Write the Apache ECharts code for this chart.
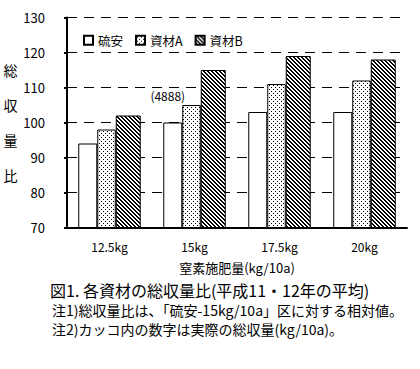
<!DOCTYPE html>
<html><head><meta charset="utf-8">
<script src="https://cdn.jsdelivr.net/npm/echarts@6/dist/echarts.min.js"></script>
<style>html,body{margin:0;padding:0;background:#fff}#c{width:420px;height:369px}</style>
</head><body><div id="c"></div>
<script>
const categories = ['12.5kg','15kg','17.5kg','20kg'];
const seriesNames = ['硫安','資材A','資材B'];
const ryuan = [94, 100, 103, 103];
const shizaiA = [98, 105, 111, 112];
const shizaiB = [102, 115, 119, 118];
const annotation = {index: 1, text: '(4888)'};
const yTicks = {min: 70, max: 130, interval: 10};
const F = '"Noto Sans CJK JP", sans-serif';

function pat(fn){const c=document.createElement('canvas');c.width=4;c.height=4;const x=c.getContext('2d');x.fillStyle='#fff';x.fillRect(0,0,4,4);x.fillStyle='#000';fn(x);return c;}
const dots = pat(x=>{x.fillRect(1,1,1,1);x.fillRect(3,3,1,1);});
const hatch = pat(x=>{for(let i=0;i<4;i++)for(let j=0;j<4;j++){const d=((i-j)%4+4)%4;if(d<2)x.fillRect(i,j,1,1);}});

const chart = echarts.init(document.getElementById('c'), null, {renderer:'svg'});
const border = {borderColor:'#000', borderWidth:1};
chart.setOption({
  animation:false,
  textStyle:{fontFamily:F},
  grid:{left:67, right:13, top:17.5, bottom:141.5},
  legend:{left:78, top:29, itemWidth:9, itemHeight:9, itemGap:12, icon:'rect',
    textStyle:{fontFamily:F, fontSize:12.5, color:'#000'},
    data:seriesNames},
  xAxis:{type:'category', data:categories,
    axisLine:{lineStyle:{color:'#000', width:2}}, axisTick:{show:false},
    axisLabel:{color:'#000', fontFamily:F, fontSize:12, margin:13},
    name:'窒素施肥量(kg/10a)', nameLocation:'middle', nameGap:33,
    nameTextStyle:{color:'#000', fontFamily:F, fontSize:13}},
  yAxis:{type:'value', min:yTicks.min, max:yTicks.max, interval:yTicks.interval,
    axisLine:{show:true, lineStyle:{color:'#000', width:2}},
    axisTick:{show:true, length:3, lineStyle:{color:'#000', width:2}},
    axisLabel:{color:'#000', fontFamily:F, fontSize:13, margin:22},
    splitLine:{lineStyle:{color:'#000', width:1, type:[10,7], dashOffset:0}},
    name:'総\n収\n量\n比', nameLocation:'middle', nameGap:49, nameRotate:0,
    nameTextStyle:{color:'#000', fontFamily:F, fontSize:14, lineHeight:35}},
  series:[
    {name:seriesNames[0], type:'bar', data:ryuan.map((v,i)=>i===annotation.index?{value:v,label:{show:true,formatter:annotation.text,position:'top',offset:[-5,-16],color:'#000',fontFamily:F,fontSize:12}}:v),
     barWidth:19, barGap:0, itemStyle:Object.assign({color:'#fff'},border)},
    {name:seriesNames[1], type:'bar', data:shizaiA, barWidth:18.5, barGap:0,
     itemStyle:Object.assign({color:{image:dots, repeat:'repeat', imageWidth:4, imageHeight:4}},border)},
    {name:seriesNames[2], type:'bar', data:shizaiB, barWidth:25, barGap:0,
     itemStyle:Object.assign({color:{image:hatch, repeat:'repeat', imageWidth:4, imageHeight:4}},border)}
  ],
  graphic:[
    {type:'text', left:50, top:282, style:{text:'図1. 各資材の総収量比(平成11・12年の平均)', fontFamily:F, fontSize:16, lineHeight:16, fill:'#000'}},
    {type:'text', left:52, top:303, style:{text:'注1)総収量比は、「硫安-15kg/10a」区に対する相対値。', fontFamily:F, fontSize:14, lineHeight:14, fill:'#000'}},
    {type:'text', left:52, top:322, style:{text:'注2)カッコ内の数字は実際の総収量(kg/10a)。', fontFamily:F, fontSize:14, lineHeight:14, fill:'#000'}}
  ]
});
</script></body></html>
